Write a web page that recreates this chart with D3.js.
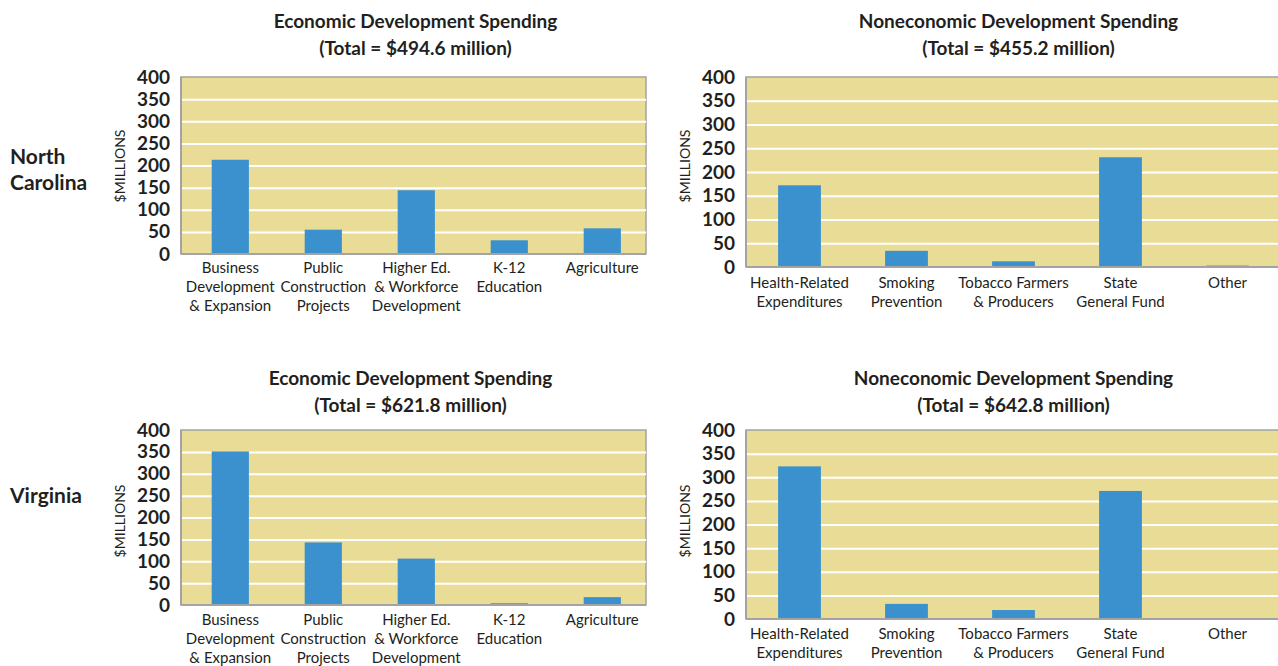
<!DOCTYPE html>
<html>
<head>
<meta charset="utf-8">
<script src="https://cdn.jsdelivr.net/npm/d3@7"></script>
<style>
  body { margin: 0; background: #fff; }
  svg { display: block; }
</style>
</head>
<body>
<div id="container"></div>
<script>
// data
const econCategories = [
    ["Business", "Development", "& Expansion"],
    ["Public", "Construction", "Projects"],
    ["Higher Ed.", "& Workforce", "Development"],
    ["K-12", "Education"],
    ["Agriculture"]
]
const nonEconCategories = [
    ["Health-Related", "Expenditures"],
    ["Smoking", "Prevention"],
    ["Tobacco Farmers", "& Producers"],
    ["State", "General Fund"],
    ["Other"]
]
const ncEcon = [213, 55, 144, 31, 58]
const ncNonEcon = [172, 34, 12, 231, 3]
const vaEcon = [351, 143, 106, 4, 18]
const vaNonEcon = [323, 32, 19, 271, 1]
const yTicks = [0, 50, 100, 150, 200, 250, 300, 350, 400]

const ncTitles = ["Economic Development Spending", "(Total = $494.6 million)",
                  "Noneconomic Development Spending", "(Total = $455.2 million)"]
const vaTitles = ["Economic Development Spending", "(Total = $621.8 million)",
                  "Noneconomic Development Spending", "(Total = $642.8  million)"]

const width = 1278, height = 666

const svg = d3.select("#container").append("svg")
    .attr("width", width)
    .attr("height", height)

const bg = "#e8dc96", barColor = "#3b91cd", axisColor = "#a3a3a3"

function panel(box, cats, values, titles, labelTop) {
    const x = d3.scaleBand()
        .domain(cats.map((d, i) => i))
        .range([box.x0, box.x1])
        .paddingInner(0.6)
        .paddingOuter(0.3)
        .align(box.align)
    const y = d3.scaleLinear().domain([0, 400]).range([box.y1, box.y0])

    const g = svg.append("g")

    g.append("rect")
        .attr("x", box.x0).attr("y", box.y0)
        .attr("width", box.x1 - box.x0).attr("height", box.y1 - box.y0)
        .attr("fill", bg)
        .attr("stroke", axisColor)
        .attr("stroke-width", 1.5)

    // white grid lines
    g.append("g")
        .attr("transform", "translate(" + box.x0 + ",0)")
        .call(d3.axisLeft(y).tickValues(yTicks.slice(1, -1)).tickSize(-(box.x1 - box.x0)).tickFormat(""))
        .call(a => a.select(".domain").remove())
        .call(a => a.selectAll("line").attr("stroke", "#fff").attr("stroke-width", 2))

    g.selectAll("rect.bar")
        .data(values)
        .join("rect")
        .attr("class", "bar")
        .attr("x", (d, i) => x(i))
        .attr("y", d => y(d))
        .attr("width", x.bandwidth())
        .attr("height", d => y(0) - y(d))
        .attr("fill", barColor)

    // axis lines on left and bottom
    g.append("line")
        .attr("x1", box.x0).attr("x2", box.x1)
        .attr("y1", box.y1).attr("y2", box.y1)
        .attr("stroke", axisColor).attr("stroke-width", 2)
    g.append("line")
        .attr("x1", box.x0).attr("x2", box.x0)
        .attr("y1", box.y0).attr("y2", box.y1)
        .attr("stroke", axisColor).attr("stroke-width", 2)

    const yaxis = g.append("g")
        .attr("transform", "translate(" + box.x0 + ",0)")
        .call(d3.axisLeft(y).tickValues(yTicks).tickSize(0).tickPadding(11))
    yaxis.select(".domain").remove()
    yaxis.selectAll("text")
        .attr("fill", "#231f20")
        .style("font", "bold 19px Lato, sans-serif")

    // category labels
    const lab = g.selectAll("text.cat")
        .data(cats)
        .join("text")
        .attr("class", "cat")
        .attr("text-anchor", "middle")
        .attr("fill", "#231f20")
        .style("font", "15px Lato, sans-serif")
    lab.selectAll("tspan")
        .data((d, i) => d.map(t => ({ t: t, i: i })))
        .join("tspan")
        .attr("x", d => x(d.i) + x.bandwidth() / 2)
        .attr("y", (d, j) => box.y1 + labelTop + j * 19)
        .text(d => d.t)

    // titles
    const cx = (box.x0 + box.x1) / 2 + box.titleShift
    titles.forEach((t, j) => {
        g.append("text")
            .attr("x", cx)
            .attr("y", box.titleY + j * 27)
            .attr("text-anchor", "middle")
            .attr("fill", "#231f20")
            .style("font", "bold 19px Lato, sans-serif")
            .text(t)
    })

    // y axis title
    g.append("text")
        .attr("text-anchor", "middle")
        .attr("transform", "translate(" + (box.x0 - 56) + "," + box.labelY + ")rotate(-90)")
        .attr("fill", "#231f20")
        .style("font", "14px Lato, sans-serif")
        .text("$MILLIONS")
}

panel({ x0: 181, x1: 646, y0: 77, y1: 254, titleY: 28, titleShift: 2, labelY: 166, align: 0.55 },
    econCategories, ncEcon, ncTitles.slice(0, 2), 19)
panel({ x0: 746, x1: 1281, y0: 77, y1: 267, titleY: 28, titleShift: 5, labelY: 166, align: 0.5 },
    nonEconCategories, ncNonEcon, ncTitles.slice(2), 21)
panel({ x0: 181, x1: 646, y0: 430, y1: 605, titleY: 385, titleShift: -3, labelY: 521, align: 0.55 },
    econCategories, vaEcon, vaTitles.slice(0, 2), 20)
panel({ x0: 746, x1: 1281, y0: 430, y1: 619, titleY: 385, titleShift: 0, labelY: 521, align: 0.5 },
    nonEconCategories, vaNonEcon, vaTitles.slice(2), 20)

// state labels
svg.append("text")
    .attr("x", 10).attr("y", 164)
    .attr("fill", "#231f20")
    .style("font", "bold 21px Lato, sans-serif")
    .selectAll("tspan")
    .data(["North", "Carolina"])
    .join("tspan")
    .attr("x", 10)
    .attr("dy", (d, i) => i ? 26 : 0)
    .text(d => d)

svg.append("text")
    .attr("x", 10).attr("y", 503)
    .attr("fill", "#231f20")
    .style("font", "bold 21px Lato, sans-serif")
    .text("Virginia")
</script>
</body>
</html>
